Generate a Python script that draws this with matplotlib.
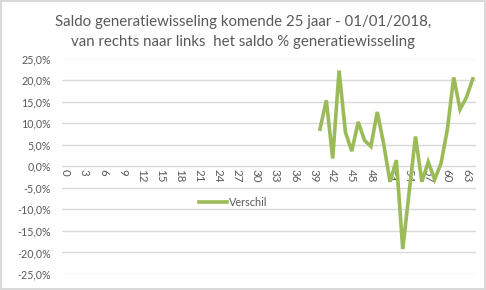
import numpy as np
import matplotlib
matplotlib.use('Agg')
import matplotlib.pyplot as plt
from matplotlib.ticker import FuncFormatter, MultipleLocator

# categories 0..64 (only the last 25 have a value)
categories = list(range(0, 65))
first_cat = 40
verschil = [8.6, 15.3, 1.8, 22.2, 7.9, 3.5, 10.3, 6.0, 4.6, 12.6,
            5.2, -3.6, 1.4, -19.2, -6.0, 6.9, -3.6, 1.0, -3.1, 0.6,
            8.5, 20.6, 13.2, 16.0, 20.3]
tick_labels = [str(c) for c in categories[::3]]

values = np.full(len(categories), np.nan)
values[first_cat:first_cat + len(verschil)] = np.array(verschil) / 100

plt.rcParams['font.family'] = ['Lato', 'DejaVu Sans']
grey = '#595959'

fig = plt.figure(figsize=(4.86, 2.90), dpi=100)
fig.patch.set_edgecolor('#d9d9d9')
fig.patch.set_linewidth(1.5)
ax = fig.add_axes([62 / 486, 1 - 274 / 290, (476 - 62) / 486, (274 - 58.5) / 290])

ax.plot(categories, values, color='#9BBB59', linewidth=2.6, label='Verschil',
        solid_joinstyle='miter')

ax.set_xlim(-0.5, len(categories) - 0.5)
ax.set_ylim(-0.25, 0.25)
ax.yaxis.set_major_locator(MultipleLocator(0.05))
ax.yaxis.set_major_formatter(FuncFormatter(
    lambda v, p: f'{v * 100:.1f}%'.replace('.', ',').replace('-0,0', '0,0')))
ax.grid(axis='y', color='#d9d9d9', linewidth=1)
ax.set_axisbelow(True)

for s in ['top', 'right', 'left']:
    ax.spines[s].set_visible(False)
ax.spines['bottom'].set_position(('data', 0))
ax.spines['bottom'].set_visible(False)

ax.set_xticks(categories[::3])
ax.set_xticklabels(tick_labels, rotation=270, fontsize=8.3, color=grey)
ax.tick_params(axis='x', length=0, pad=2)
ax.tick_params(axis='y', length=0, labelsize=7.7, labelcolor=grey, pad=8)

fig.text(0.5, 1 - 22 / 290, 'Saldo generatiewisseling komende 25 jaar - 01/01/2018,',
         ha='center', va='center', fontsize=10.8, color=grey)
fig.text(0.5, 1 - 42 / 290, 'van rechts naar links  het saldo % generatiewisseling',
         ha='center', va='center', fontsize=10.8, color=grey)

ax.legend(loc='center left', bbox_to_anchor=(199 / 486, 1 - 202 / 290),
          bbox_transform=fig.transFigure, frameon=False, fontsize=7.8,
          labelcolor=grey, handlelength=2.6, handletextpad=0.2, borderpad=0,
          borderaxespad=0)

fig.savefig('out.png', dpi=100)
